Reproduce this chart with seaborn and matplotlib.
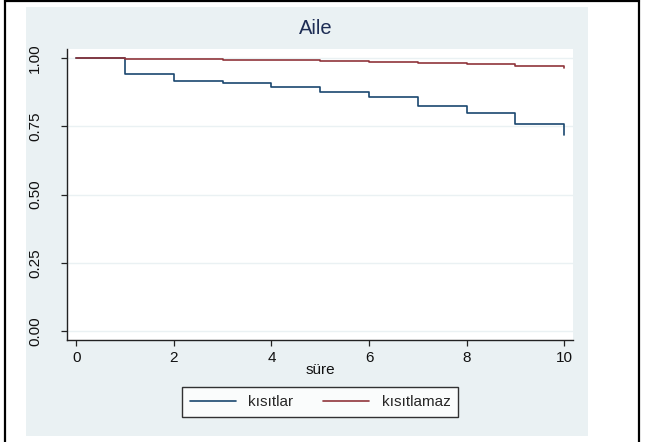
import matplotlib
matplotlib.use("Agg")
import matplotlib.pyplot as plt
from matplotlib.patches import Rectangle
from matplotlib.lines import Line2D
import seaborn as sns
import pandas as pd

# ---- data ----
times = [0, 1, 2, 3, 4, 5, 6, 7, 8, 9, 10]
kisitlar = [1.0, 0.943, 0.918, 0.908, 0.895, 0.877, 0.859, 0.826, 0.801, 0.759, 0.720]
kisitlamaz = [1.0, 0.997, 0.996, 0.994, 0.993, 0.990, 0.988, 0.984, 0.978, 0.972, 0.963]
groups = ["kısıtlar", "kısıtlamaz"]
title = "Aile"
xlabel = "süre"
xticks = [0, 2, 4, 6, 8, 10]
yticks = [0.0, 0.25, 0.5, 0.75, 1.0]
ytick_labels = ["0.00", "0.25", "0.50", "0.75", "1.00"]

df = pd.DataFrame({
    "t": times + times,
    "s": kisitlar + kisitlamaz,
    "g": [groups[0]] * len(times) + [groups[1]] * len(times),
})

sns.set_style("white")
plt.rcParams["font.family"] = ["Liberation Sans", "DejaVu Sans"]

W, H = 656, 442
fig = plt.figure(figsize=(W / 100, H / 100), dpi=100)
fig.patch.set_facecolor("white")

panel_color = "#EAF1F3"
# outer panel
fig.patches.append(Rectangle((26 / W, 1 - 436 / H), 562 / W, 429 / H,
                             transform=fig.transFigure, facecolor=panel_color,
                             edgecolor="none", zorder=-10))
# black frame (top, left, right)
fig.lines.append(Line2D([5 / W, 5 / W], [0, 1], transform=fig.transFigure, color="black", lw=1.6))
fig.lines.append(Line2D([638.5 / W, 638.5 / W], [0, 1], transform=fig.transFigure, color="black", lw=1.6))
fig.lines.append(Line2D([5 / W, 638.5 / W], [1 - 0.8 / H, 1 - 0.8 / H], transform=fig.transFigure, color="black", lw=1.6))

ax = fig.add_axes([67.3 / W, 1 - 340 / H, (573 - 67.3) / W, (340 - 49) / H])
ax.set_zorder(5)
ax.set_facecolor("white")

palette = {groups[0]: "#1A476F", groups[1]: "#90353B"}
sns.lineplot(data=df, x="t", y="s", hue="g", palette=palette, drawstyle="steps-post",
             linewidth=1.2, estimator=None, ax=ax, zorder=3)

handles, labels = ax.get_legend_handles_labels()
if ax.get_legend() is not None:
    ax.get_legend().remove()

ax.set_xlim(-0.185, 10.18)
ax.set_ylim(-0.033, 1.034)
ax.set_xticks(xticks)
ax.set_xticklabels([str(v) for v in xticks])
ax.set_yticks(yticks)
ax.set_yticklabels(ytick_labels, rotation=90, va="center")
for y in yticks:
    ax.axhline(y, color=panel_color, lw=1.0, zorder=1)
ax.grid(False)

for side in ["top", "right"]:
    ax.spines[side].set_visible(False)
for side in ["left", "bottom"]:
    ax.spines[side].set_color("#222222")
    ax.spines[side].set_linewidth(1.0)

ax.tick_params(axis="both", which="major", length=4, width=0.9, color="#222222",
               labelsize=11, labelcolor="#111111", left=True, bottom=True)
ax.tick_params(axis="y", pad=14)
ax.tick_params(axis="x", pad=4)
ax.set_xlabel("")
ax.set_ylabel("")

fig.text(316 / W, 1 - 29 / H, title, ha="center", va="center", fontsize=14.5, color="#1E2D55")
fig.text(320 / W, 1 - 370 / H, xlabel, ha="center", va="center", fontsize=11, color="#111111")

leg = fig.legend(handles, labels, loc="center", bbox_to_anchor=(320 / W, 1 - 402 / H),
                 ncol=2, frameon=True, fancybox=False, edgecolor="black", facecolor="white",
                 fontsize=11, handlelength=3.0, columnspacing=2.0, handletextpad=0.8,
                 borderpad=0.5)
leg.get_frame().set_linewidth(1.0)
leg.set_zorder(6)
for h in leg.get_lines():
    h.set_linewidth(1.2)

fig.savefig("out.png", dpi=100, facecolor="white")
